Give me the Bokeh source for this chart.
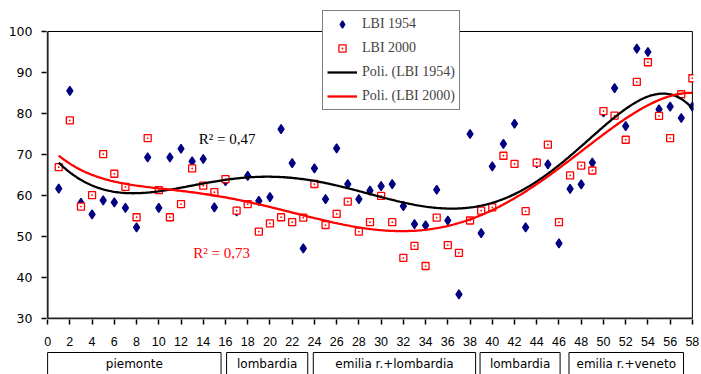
import numpy as np
from bokeh.plotting import figure
from bokeh.layouts import column
from bokeh.models import Legend, LegendItem, FixedTicker, Range1d
from bokeh.core.properties import value
from bokeh.embed import file_html
from bokeh.resources import INLINE

# ---------------- data ----------------
station = list(range(1, 59))
lbi_1954 = [61.7, 85.5, 58.2, 55.4, 58.8, 58.3, 57.0, 52.2, 69.3, 57.0,
            69.3, 71.4, 68.3, 68.9, 57.1, 63.5, 56.1, 64.8, 58.7, 59.6,
            76.2, 67.9, 47.1, 66.6, 59.1, 71.5, 62.8, 59.1, 61.2, 62.3,
            62.8, 57.4, 53.0, 52.7, 61.4, 53.9, 35.9, 75.0, 50.8, 67.1,
            72.6, 77.5, 52.2, 67.9, 67.6, 48.3, 61.6, 62.7, 68.0, 80.3,
            86.2, 76.9, 95.8, 95.0, 81.0, 81.7, 78.9, 81.7]
lbi_2000 = [66.9, 78.3, 57.3, 60.1, 70.1, 65.3, 62.1, 54.7, 74.0, 61.3,
            54.7, 57.9, 66.6, 62.4, 60.8, 64.0, 56.3, 57.9, 51.2, 53.2,
            54.7, 53.5, 54.6, 62.8, 52.8, 55.5, 58.5, 51.2, 53.5, 59.9,
            53.5, 44.8, 47.7, 42.8, 54.6, 47.9, 46.0, 53.9, 56.3, 57.1,
            69.7, 67.7, 56.2, 68.0, 72.4, 53.5, 64.9, 67.3, 66.1, 80.6,
            79.5, 73.6, 87.7, 92.5, 79.4, 74.0, 84.7, 88.6]
series_names = ["LBI 1954", "LBI 2000"]
trend_names = ["Poli. (LBI 1954)", "Poli. (LBI 2000)"]
trend_degree = 6
x_ticks = list(range(0, 59, 2))
y_ticks = list(range(30, 101, 10))
group_labels = ["piemonte", "lombardia", "emilia r.+lombardia", "lombardia", "emilia r.+veneto"]
group_start = [0.0, 16.1, 23.9, 38.9, 46.9]
group_end = [15.6, 23.4, 38.5, 46.1, 57.2]
r2_labels = ["R² = 0,47", "R² = 0,73"]
r2_x = [13.6, 13.1]
r2_y = [73.8, 46.0]

BLUE = "#000080"
RED = "#ff0000"
W = 700
XMIN, XMAX = x_ticks[0], x_ticks[-1]
YMIN, YMAX = y_ticks[0], y_ticks[-1]

# ---------------- main chart ----------------
p = figure(width=W, height=351, x_range=Range1d(XMIN - 0.1, XMAX + 0.1),
           y_range=Range1d(29.756, 106.34),
           output_backend="svg", toolbar_location=None,
           min_border_left=46, min_border_right=7, min_border_top=5, min_border_bottom=32)
p.background_fill_color = "white"
p.border_fill_color = "white"
p.outline_line_color = None
p.grid.visible = False

for ax in (p.xaxis[0], p.yaxis[0]):
    ax.axis_line_color = None
    ax.major_tick_line_color = "black"
    ax.major_tick_line_width = 1.5
    ax.major_tick_out = 5
    ax.major_tick_in = 0
    ax.minor_tick_line_color = None
    ax.major_label_text_color = "black"

p.xaxis.ticker = FixedTicker(ticks=x_ticks)
p.yaxis.ticker = FixedTicker(ticks=y_ticks)
p.xaxis.major_label_text_font = "Liberation Sans"
p.xaxis.major_label_text_font_size = "12.5px"
p.yaxis.major_label_text_font = "DejaVu Sans"
p.yaxis.major_label_text_font_size = "12.5px"
p.xaxis.major_label_standoff = 12
p.yaxis.major_label_standoff = 9

# plot-area border: heavier left/bottom axes, thin top/right frame
p.segment(x0=[XMIN, XMIN], y0=[YMIN, YMIN], x1=[XMIN, XMAX], y1=[YMAX, YMIN],
          line_color="#222222", line_width=2)
p.segment(x0=[XMIN, XMAX], y0=[YMAX, YMIN], x1=[XMAX, XMAX], y1=[YMAX, YMAX],
          line_color="black", line_width=1)

r54 = p.scatter(station, lbi_1954, marker="diamond", size=9,
                fill_color=BLUE, line_color=BLUE, line_width=1.3)
r00 = p.scatter(station, lbi_2000, marker="square_dot", size=7,
                fill_color="white", line_color=RED, line_width=1.3)

xs = np.linspace(station[0], station[-1], 400)
c54 = np.polyfit(station, lbi_1954, trend_degree)
c00 = np.polyfit(station, lbi_2000, trend_degree)
t54 = p.line(xs, np.polyval(c54, xs), line_color="black", line_width=2.3)
t00 = p.line(xs, np.polyval(c00, xs), line_color=RED, line_width=2.3)

p.text(x=[r2_x[0]], y=[r2_y[0]], text=[r2_labels[0]], text_color="black",
       text_font=value("Liberation Serif"), text_font_size="15px",
       text_baseline="middle", text_align="left")
p.text(x=[r2_x[1]], y=[r2_y[1]], text=[r2_labels[1]], text_color=RED,
       text_font=value("Liberation Serif"), text_font_size="15px",
       text_baseline="middle", text_align="left")

legend = Legend(items=[LegendItem(label=series_names[0], renderers=[r54]),
                       LegendItem(label=series_names[1], renderers=[r00]),
                       LegendItem(label=trend_names[0], renderers=[t54]),
                       LegendItem(label=trend_names[1], renderers=[t00])],
                location=(276, 209))
legend.border_line_color = "black"
legend.border_line_width = 1
legend.background_fill_color = "white"
legend.background_fill_alpha = 1
legend.label_text_font = "Liberation Serif"
legend.label_text_font_size = "14px"
legend.glyph_width = 30
legend.glyph_height = 18
legend.label_height = 18
legend.spacing = 6
legend.padding = 4
legend.margin = 0
legend.label_standoff = 5
p.add_layout(legend)

# ---------------- group boxes ----------------
p2 = figure(width=W, height=23, x_range=p.x_range, y_range=Range1d(0, 23),
            output_backend="svg", toolbar_location=None,
            x_axis_location=None, y_axis_location=None,
            min_border_left=46, min_border_right=7, min_border_top=0, min_border_bottom=0)
p2.outline_line_color = None
p2.grid.visible = False
p2.background_fill_color = "white"
p2.border_fill_color = "white"
p2.quad(left=group_start, right=group_end, top=22, bottom=-10,
        fill_color=None, line_color="black", line_width=1)
centers = [(a + b) / 2 for a, b in zip(group_start, group_end)]
p2.text(x=centers, y=[11] * len(centers), text=group_labels,
        text_font=value("DejaVu Sans"), text_font_size="12px", text_color="black",
        text_align="center", text_baseline="middle")

layout = column(p, p2)
open("out.html", "w").write(file_html(layout, INLINE))
